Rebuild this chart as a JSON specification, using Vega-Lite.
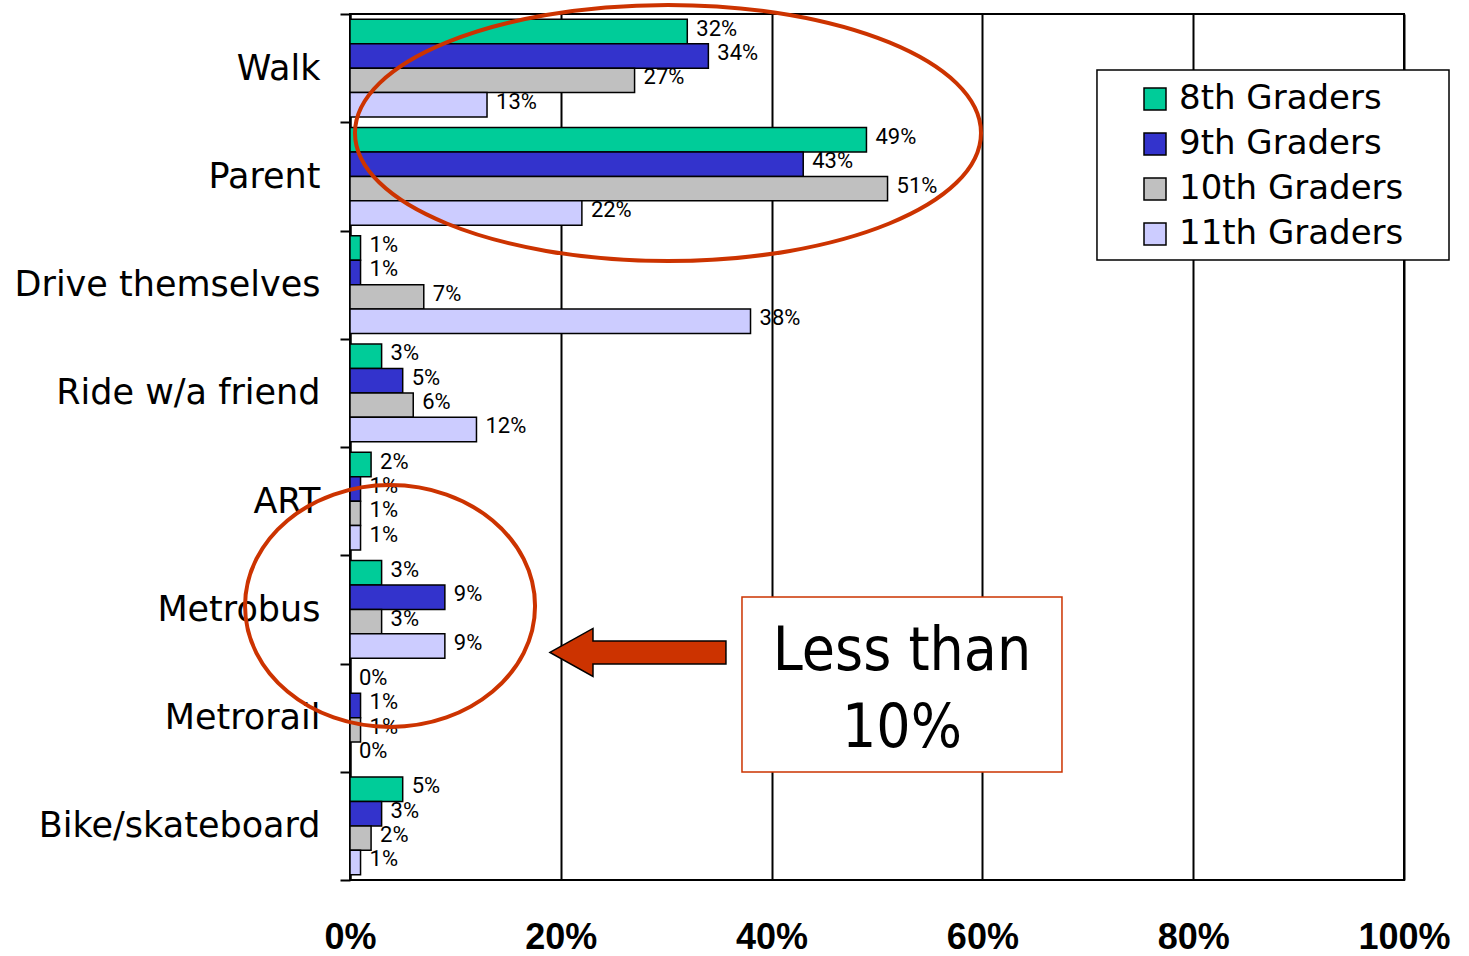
{
  "$schema": "https://vega.github.io/schema/vega-lite/v6.json",
  "width": 1054,
  "height": 866,
  "autosize": {"type": "none"},
  "padding": {"left": 350, "top": 14, "right": 65, "bottom": 76},
  "background": "white",
  "config": {"view": {"stroke": "black", "strokeWidth": 2}, "font": "DejaVu Sans"},
  "datasets": {
    "bars": [
      {"mode": "Walk", "grade": "8th Graders", "pct": 0.32},
      {"mode": "Walk", "grade": "9th Graders", "pct": 0.34},
      {"mode": "Walk", "grade": "10th Graders", "pct": 0.27},
      {"mode": "Walk", "grade": "11th Graders", "pct": 0.13},
      {"mode": "Parent", "grade": "8th Graders", "pct": 0.49},
      {"mode": "Parent", "grade": "9th Graders", "pct": 0.43},
      {"mode": "Parent", "grade": "10th Graders", "pct": 0.51},
      {"mode": "Parent", "grade": "11th Graders", "pct": 0.22},
      {"mode": "Drive themselves", "grade": "8th Graders", "pct": 0.01},
      {"mode": "Drive themselves", "grade": "9th Graders", "pct": 0.01},
      {"mode": "Drive themselves", "grade": "10th Graders", "pct": 0.07},
      {"mode": "Drive themselves", "grade": "11th Graders", "pct": 0.38},
      {"mode": "Ride w/a friend", "grade": "8th Graders", "pct": 0.03},
      {"mode": "Ride w/a friend", "grade": "9th Graders", "pct": 0.05},
      {"mode": "Ride w/a friend", "grade": "10th Graders", "pct": 0.06},
      {"mode": "Ride w/a friend", "grade": "11th Graders", "pct": 0.12},
      {"mode": "ART", "grade": "8th Graders", "pct": 0.02},
      {"mode": "ART", "grade": "9th Graders", "pct": 0.01},
      {"mode": "ART", "grade": "10th Graders", "pct": 0.01},
      {"mode": "ART", "grade": "11th Graders", "pct": 0.01},
      {"mode": "Metrobus", "grade": "8th Graders", "pct": 0.03},
      {"mode": "Metrobus", "grade": "9th Graders", "pct": 0.09},
      {"mode": "Metrobus", "grade": "10th Graders", "pct": 0.03},
      {"mode": "Metrobus", "grade": "11th Graders", "pct": 0.09},
      {"mode": "Metrorail", "grade": "8th Graders", "pct": 0.0},
      {"mode": "Metrorail", "grade": "9th Graders", "pct": 0.01},
      {"mode": "Metrorail", "grade": "10th Graders", "pct": 0.01},
      {"mode": "Metrorail", "grade": "11th Graders", "pct": 0.0},
      {"mode": "Bike/skateboard", "grade": "8th Graders", "pct": 0.05},
      {"mode": "Bike/skateboard", "grade": "9th Graders", "pct": 0.03},
      {"mode": "Bike/skateboard", "grade": "10th Graders", "pct": 0.02},
      {"mode": "Bike/skateboard", "grade": "11th Graders", "pct": 0.01}
    ]
  },
  "layer": [
    {
      "data": {"name": "bars"},
      "mark": {"type": "bar", "stroke": "black", "strokeWidth": 1.5},
      "encoding": {
        "y": {
          "field": "mode", "type": "nominal", "title": null,
          "sort": ["Walk", "Parent", "Drive themselves", "Ride w/a friend", "ART", "Metrobus", "Metrorail", "Bike/skateboard"],
          "scale": {"paddingInner": 0, "paddingOuter": 0},
          "axis": {
            "title": null, "domain": true, "domainColor": "black", "domainWidth": 2,
            "ticks": true, "tickColor": "black", "tickWidth": 2, "tickSize": 10, "tickBand": "extent",
            "labelFont": "DejaVu Sans", "labelFontSize": 35, "labelColor": "black", "labelPadding": 20,
            "labelLimit": 400, "grid": false
          }
        },
        "yOffset": {
          "field": "grade", "type": "nominal",
          "sort": ["8th Graders", "9th Graders", "10th Graders", "11th Graders"],
          "scale": {"paddingInner": 0, "paddingOuter": 0.22}
        },
        "x": {
          "field": "pct", "type": "quantitative", "title": null,
          "scale": {"domain": [0, 1], "nice": false, "zero": true},
          "axis": {
            "title": null, "values": [0, 0.2, 0.4, 0.6, 0.8, 1], "format": ".0%",
            "grid": true, "gridColor": "black", "gridWidth": 2, "gridOpacity": 1,
            "domain": false, "ticks": false, "tickSize": 0,
            "labelFont": "Liberation Sans", "labelFontWeight": "bold",
            "labelFontSize": 36, "labelColor": "black", "labelBaseline": "alphabetic", "labelPadding": 68,
            "labelFlush": false, "labelOverlap": false
          }
        },
        "color": {
          "field": "grade", "type": "nominal",
          "sort": ["8th Graders", "9th Graders", "10th Graders", "11th Graders"],
          "scale": {"domain": ["8th Graders", "9th Graders", "10th Graders", "11th Graders"], "range": ["#00CC99", "#3333CC", "#C0C0C0", "#CCCCFF"]},
          "legend": {
            "orient": "none", "legendX": 788, "legendY": 68, "title": null, "direction": "vertical",
            "symbolType": "square", "symbolSize": 484, "symbolStrokeColor": "black", "symbolStrokeWidth": 1.5,
            "symbolOpacity": 1,
            "labelFont": "DejaVu Sans", "labelFontSize": 34, "labelColor": "black", "labelOffset": 7,
            "rowPadding": 11, "padding": 0, "labelLimit": 400
          }
        }
      }
    },
    {
      "data": {"name": "bars"},
      "mark": {"type": "text", "align": "left", "baseline": "middle", "dx": 9, "dy": -3, "fontSize": 22, "font": "Roboto", "color": "black"},
      "encoding": {
        "y": {
          "field": "mode", "type": "nominal", "title": null,
          "sort": ["Walk", "Parent", "Drive themselves", "Ride w/a friend", "ART", "Metrobus", "Metrorail", "Bike/skateboard"],
          "scale": {"paddingInner": 0, "paddingOuter": 0},
          "axis": null
        },
        "yOffset": {
          "field": "grade", "type": "nominal",
          "sort": ["8th Graders", "9th Graders", "10th Graders", "11th Graders"],
          "scale": {"paddingInner": 0, "paddingOuter": 0.22}
        },
        "x": {"field": "pct", "type": "quantitative", "title": null, "scale": {"domain": [0, 1], "nice": false, "zero": true}},
        "text": {"field": "pct", "type": "quantitative", "format": ".0%"}
      }
    },
    {
      "data": {"values": [{"x": 0.7087, "x2": 1.0427, "y": 0.517, "y2": 2.273}]},
      "mark": {"type": "rect", "fill": "white", "stroke": "black", "strokeWidth": 1.5},
      "encoding": {
        "x": {"field": "x", "type": "quantitative", "title": null, "scale": {"domain": [0, 1], "nice": false, "zero": true}},
        "x2": {"field": "x2"},
        "y": {"field": "y", "type": "quantitative", "title": null, "scale": {"domain": [0, 8], "reverse": true, "nice": false, "zero": false}, "axis": null},
        "y2": {"field": "y2"}
      }
    },
    {
      "data": {"values": [{"x": 0.3017, "y": 1.099}]},
      "mark": {"type": "point", "shape": "M-1,0A1,0.409,0,1,0,1,0A1,0.409,0,1,0,-1,0Z", "size": 391876, "filled": false, "stroke": "#CC3300", "strokeWidth": 4, "opacity": 1},
      "encoding": {
        "x": {"field": "x", "type": "quantitative", "title": null, "scale": {"domain": [0, 1], "nice": false, "zero": true}},
        "y": {"field": "y", "type": "quantitative", "title": null, "scale": {"domain": [0, 8], "reverse": true, "nice": false, "zero": false}, "axis": null}
      }
    },
    {
      "data": {"values": [{"x": 0.038, "y": 5.469}]},
      "mark": {"type": "point", "shape": "M-1,0A1,0.834,0,1,0,1,0A1,0.834,0,1,0,-1,0Z", "size": 84100, "filled": false, "stroke": "#CC3300", "strokeWidth": 4, "opacity": 1},
      "encoding": {
        "x": {"field": "x", "type": "quantitative", "title": null, "scale": {"domain": [0, 1], "nice": false, "zero": true}},
        "y": {"field": "y", "type": "quantitative", "title": null, "scale": {"domain": [0, 8], "reverse": true, "nice": false, "zero": false}, "axis": null}
      }
    },
    {
      "data": {"values": [{"x": 0.2732, "y": 5.898}]},
      "mark": {"type": "point", "shape": "M-1,0L-0.511,-0.273L-0.511,-0.131L1,-0.131L1,0.131L-0.511,0.131L-0.511,0.273Z", "size": 30976, "filled": true, "fill": "#CC3300", "stroke": "black", "strokeWidth": 1.5, "opacity": 1},
      "encoding": {
        "x": {"field": "x", "type": "quantitative", "title": null, "scale": {"domain": [0, 1], "nice": false, "zero": true}},
        "y": {"field": "y", "type": "quantitative", "title": null, "scale": {"domain": [0, 8], "reverse": true, "nice": false, "zero": false}, "axis": null}
      }
    },
    {
      "data": {"values": [{"x": 0.3719, "x2": 0.6755, "y": 5.386, "y2": 7.002}]},
      "mark": {"type": "rect", "fill": "white", "stroke": "#CC3300", "strokeWidth": 1.5},
      "encoding": {
        "x": {"field": "x", "type": "quantitative", "title": null, "scale": {"domain": [0, 1], "nice": false, "zero": true}},
        "x2": {"field": "x2"},
        "y": {"field": "y", "type": "quantitative", "title": null, "scale": {"domain": [0, 8], "reverse": true, "nice": false, "zero": false}, "axis": null},
        "y2": {"field": "y2"}
      }
    },
    {
      "data": {"values": [{"x": 0.5237, "y": 6.06, "note": "Less than"}, {"x": 0.5237, "y": 6.771, "note": "10%"}]},
      "mark": {"type": "text", "align": "center", "baseline": "alphabetic", "font": "DejaVu Sans Condensed, DejaVu Sans, sans-serif", "fontSize": 60, "color": "black"},
      "encoding": {
        "x": {"field": "x", "type": "quantitative", "title": null, "scale": {"domain": [0, 1], "nice": false, "zero": true}},
        "y": {"field": "y", "type": "quantitative", "title": null, "scale": {"domain": [0, 8], "reverse": true, "nice": false, "zero": false}, "axis": null},
        "text": {"field": "note", "type": "nominal"}
      }
    }
  ],
  "resolve": {"scale": {"y": "independent"}, "axis": {"y": "independent"}}
}
